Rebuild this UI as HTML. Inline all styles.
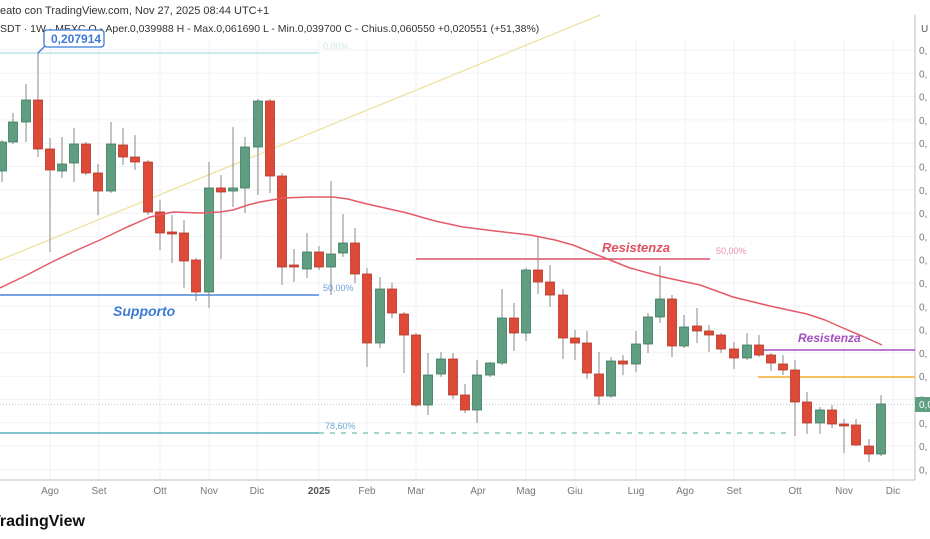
<!DOCTYPE html>
<html><head><meta charset="utf-8"><style>
body{margin:0;background:#fff;width:930px;height:539px;overflow:hidden;font-family:"Liberation Sans",sans-serif}
svg{display:block}
</style></head><body>
<svg id="s" width="930" height="539" xmlns="http://www.w3.org/2000/svg" font-family="Liberation Sans, sans-serif">
<g id="grid" stroke="#f0f2f5" stroke-width="1"></g>
<line x1="0" y1="480" x2="915" y2="480" stroke="#b8bcc4"/>
<line x1="915" y1="15" x2="915" y2="480" stroke="#b8bcc4"/>
<text x="0" y="14" font-size="11" fill="#333">eato con TradingView.com, Nov 27, 2025 08:44 UTC+1</text>
<text x="0" y="32" font-size="10.5" fill="#333">SDT · 1W · MEXC  O - Aper.0,039988  H - Max.0,061690  L - Min.0,039700  C - Chius.0,060550  +0,020551 (+51,38%)</text>
<line x1="0" y1="260" x2="600" y2="15" stroke="#efe2a0" stroke-width="1.3"/>
<line x1="0" y1="53" x2="319" y2="53" stroke="#9fd6d8" stroke-width="1"/>
<text x="323" y="49" font-size="9" fill="#cde8e8">0,00%</text>
<line x1="0" y1="295" x2="319" y2="295" stroke="#4a86d8" stroke-width="1.5"/>
<text x="323" y="291" font-size="9" fill="#6aa0d8">50,00%</text>
<text x="113" y="316" font-size="14" font-style="italic" font-weight="bold" fill="#3b7ad6">Supporto</text>
<line x1="0" y1="404.5" x2="915" y2="404.5" stroke="#c8ccd2" stroke-dasharray="1,2"/>
<line x1="0" y1="433" x2="319" y2="433" stroke="#3d9cb5" stroke-width="1.3"/>
<line x1="319" y1="433" x2="792" y2="433" stroke="#6cbfa8" stroke-width="1.3" stroke-dasharray="5,6"/>
<text x="325" y="429" font-size="9" fill="#6aacd0">78,60%</text>
<line x1="416" y1="259" x2="710" y2="259" stroke="#e0506a" stroke-width="1.5"/>
<text x="602" y="252" font-size="13" font-style="italic" font-weight="bold" fill="#e05060">Resistenza</text>
<text x="716" y="254" font-size="9" fill="#ec90a8">50,00%</text>
<line x1="760" y1="350" x2="915" y2="350" stroke="#a64ec0" stroke-width="1.5"/>
<text x="798" y="342" font-size="12" font-style="italic" font-weight="bold" fill="#a64ec0">Resistenza</text>
<line x1="758" y1="377" x2="915" y2="377" stroke="#f6c060" stroke-width="2"/>
<g id="c"></g>
<polyline fill="none" stroke="#e45a68" stroke-width="1.5" stroke-linejoin="round" points="0,288 25,276 50,263 75,251 100,240 125,228 150,217 173,212 200,213 220,212 233,210 248,205 260,202 283,198 310,197 333,197 348,199 363,203 385,208 407,213 435,221 463,227 495,231 530,235 555,240 573,245 600,256 630,268 663,277 700,285 733,297 770,306 807,314 825,320 843,328 862,336 882,345"/>
<line x1="38" y1="53" x2="38" y2="100" stroke="#888" stroke-width="1"/>
<path d="M38,53 L46,45" stroke="#3b7ad6" stroke-width="1.3"/>
<rect x="44" y="30" width="60" height="17" rx="3" fill="#fff" stroke="#3b7ad6" stroke-width="1.3"/>
<text x="51" y="43" font-size="12" font-weight="bold" fill="#3b7ad6">0,207914</text>
<g font-size="10" fill="#777" text-anchor="middle">
<text x="50" y="494">Ago</text><text x="99" y="494">Set</text><text x="160" y="494">Ott</text><text x="209" y="494">Nov</text><text x="257" y="494">Dic</text><text x="319" y="494" font-weight="bold" fill="#555">2025</text><text x="367" y="494">Feb</text><text x="416" y="494">Mar</text><text x="478" y="494">Apr</text><text x="526" y="494">Mag</text><text x="575" y="494">Giu</text><text x="636" y="494">Lug</text><text x="685" y="494">Ago</text><text x="734" y="494">Set</text><text x="795" y="494">Ott</text><text x="844" y="494">Nov</text><text x="893" y="494">Dic</text>
</g>
<g id="yl" font-size="10" fill="#777"></g>
<text x="921" y="32" font-size="10" fill="#555">U</text>
<rect x="915" y="397" width="15" height="15" fill="#5f9e80"/>
<text x="919" y="408" font-size="10" fill="#fff">0,0</text>
<text x="-9" y="526" font-size="16" font-weight="bold" fill="#111">TradingView</text>
</svg>
<script>
var ns="http://www.w3.org/2000/svg";
function el(p,t,a){var e=document.createElementNS(ns,t);for(var k in a)e.setAttribute(k,a[k]);p.appendChild(e);return e;}
var g=document.getElementById('grid');
[50,99,160,209,257,319,367,416,478,526,575,636,685,734,795,844,893].forEach(function(x){el(g,'line',{x1:x,y1:40,x2:x,y2:480});});
var yl=document.getElementById('yl');
for(var i=0;i<19;i++){var y=50+i*23.3;el(g,'line',{x1:0,y1:y,x2:915,y2:y});var t=el(yl,'text',{x:919,y:y+4});t.textContent='0,';}
var C=[[2,171,142,140,182],[13,142,122,113,144],[26,122,100,84,142],[38,100,149,52,157],[50,149,170,138,252],[62,171,164,137,178],[74,163,144,128,182],[86,144,173,142,175],[98,173,191,164,215],[111,191,144,122,193],[123,145,157,128,165],[135,157,162,135,170],[148,162,212,160,215],[160,212,233,200,250],[172,232,233,215,263],[184,233,261,220,288],[196,260,292,258,301],[209,292,188,162,308],[221,188,192,175,259],[233,191,188,127,207],[245,188,147,137,213],[258,147,101,99,195],[270,101,176,99,193],[282,176,267,173,285],[294,265,267,249,282],[307,269,252,233,278],[319,252,267,246,270],[331,267,254,181,295],[343,253,243,214,257],[355,243,274,228,283],[367,274,343,268,367],[380,343,289,277,348],[392,289,313,283,318],[404,314,335,312,373],[416,335,405,333,407],[428,405,375,353,415],[441,374,359,352,377],[453,359,395,353,399],[465,395,410,384,413],[477,410,375,360,423],[490,375,363,362,377],[502,363,318,289,365],[514,318,333,303,351],[526,333,270,268,341],[538,270,282,237,294],[550,282,295,265,307],[563,295,338,289,359],[575,338,343,330,360],[587,343,373,331,379],[599,374,396,352,405],[611,396,361,357,398],[623,361,364,355,375],[636,364,344,331,372],[648,344,317,313,353],[660,317,299,266,323],[672,299,346,295,357],[684,346,327,315,348],[697,326,331,308,343],[709,331,335,325,352],[721,335,349,333,353],[734,349,358,342,369],[747,358,345,333,360],[759,345,355,335,357],[771,355,363,353,371],[783,364,370,355,375],[795,370,402,360,436],[807,402,423,392,434],[820,423,410,407,434],[832,410,424,405,428],[844,424,425,419,453],[856,425,445,419,446],[869,446,454,439,462],[881,454,404,395,456]];
var cg=document.getElementById('c');
C.forEach(function(c){var up=c[2]<c[1];var col=up?'#5f9e80':'#dd4a38';var st=up?'#3f7a5e':'#b83828';
el(cg,'line',{x1:c[0],y1:c[3],x2:c[0],y2:c[4],stroke:'#888','stroke-width':1});
var top=Math.min(c[1],c[2]),h=Math.max(2,Math.abs(c[1]-c[2]));
el(cg,'rect',{x:c[0]-4.5,y:top,width:9,height:h,fill:col,stroke:st,'stroke-width':0.8});});
</script>
</body></html>
